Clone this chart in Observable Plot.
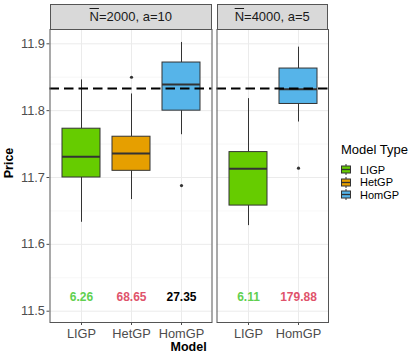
<!DOCTYPE html>
<html><head><meta charset="utf-8">
<script src="https://cdn.jsdelivr.net/npm/d3@7"></script>
<script src="https://cdn.jsdelivr.net/npm/@observablehq/plot@0.6"></script>
<style>
body{margin:0;background:#fff;font-family:"Liberation Sans",Arial,sans-serif;}
#root{position:relative;width:419px;height:359px;overflow:hidden;background:#fff;}
.abs{position:absolute;}
.strip{position:absolute;top:4px;height:25.5px;background:#D9D9D9;border:1px solid #555;box-sizing:border-box;font-size:13px;color:#1A1A1A;display:flex;align-items:center;justify-content:center;white-space:nowrap;}
.ol{text-decoration:overline;}
.title{font-weight:bold;font-size:12.5px;color:#000;white-space:nowrap;}
.leg{position:absolute;left:341px;font-size:11px;color:#000;white-space:nowrap;}
</style></head>
<body><div id="root"></div>
<script>
// ---- data ----
const models = ["LIGP", "HetGP", "HomGP"];
const modelColors = ["#66CC00", "#E69F00", "#56B4E9"];
const panelN = ["2000", "4000"];
const panelA = ["10", "5"];
const panelModels = [["LIGP", "HetGP", "HomGP"], ["LIGP", "HomGP"]];
const whiskerLow = [[11.633, 11.667, 11.764], [11.628, 11.783]];
const quart1 = [[11.700, 11.710, 11.800], [11.658, 11.810]];
const medians = [[11.731, 11.736, 11.839], [11.713, 11.832]];
const quart3 = [[11.773, 11.761, 11.872], [11.738, 11.863]];
const whiskerHigh = [[11.846, 11.825, 11.902], [11.818, 11.895]];
const outliers = [[[], [11.850], [11.688]], [[], [11.714]]];
const benchmark = 11.833;
const timeLabels = [["6.26", "68.65", "27.35"], ["6.11", "179.88"]];
const timeColors = [["#61D04F", "#DF536B", "#000000"], ["#61D04F", "#DF536B"]];
const labelLevel = 11.521;
const yTicks = [11.5, 11.6, 11.7, 11.8, 11.9];
const yMinor = [11.55, 11.65, 11.75, 11.85];
const yDomain = [11.4831, 11.9214];

const root = document.getElementById("root");
const colorOf = m => modelColors[models.indexOf(m)];

function makePanel(i, width, mLeft, mRight, showY) {
  const rows = panelModels[i].map((m, j) => ({
    model: m, lo: whiskerLow[i][j], q1: quart1[i][j], med: medians[i][j],
    q3: quart3[i][j], hi: whiskerHigh[i][j], label: timeLabels[i][j],
    lc: timeColors[i][j], col: colorOf(m), ly: labelLevel
  }));
  const outs = [];
  panelModels[i].forEach((m, j) => outliers[i][j].forEach(v => outs.push({model: m, v})));
  return Plot.plot({
    width, height: 343, marginTop: 29, marginBottom: 21, marginLeft: mLeft, marginRight: mRight,
    style: {fontSize: "12.8px", color: "#4D4D4D", fontFamily: "'Liberation Sans', Arial, sans-serif", background: "transparent"},
    x: {type: "band", domain: panelModels[i], paddingInner: 0.25, paddingOuter: 0.225, label: null, tickSize: 3, tickPadding: 3},
    y: {domain: yDomain, ticks: yTicks, tickFormat: ".1f", label: null, tickSize: 3, tickPadding: 2, axis: showY ? "left" : null},
    color: {type: "identity"},
    marks: [
      Plot.gridY(yMinor, {stroke: "#F3F3F3", strokeOpacity: 1, strokeWidth: 0.7}),
      Plot.gridY(yTicks, {stroke: "#EBEBEB", strokeOpacity: 1, strokeWidth: 1}),
      Plot.gridX(panelModels[i], {stroke: "#EBEBEB", strokeOpacity: 1, strokeWidth: 1}),
      Plot.ruleX(rows, {x: "model", y1: "lo", y2: "q1", stroke: "#333333", strokeWidth: 1}),
      Plot.ruleX(rows, {x: "model", y1: "q3", y2: "hi", stroke: "#333333", strokeWidth: 1}),
      Plot.barY(rows, {x: "model", y1: "q1", y2: "q3", fill: "col", stroke: "#333333", strokeWidth: 1}),
      Plot.tickY(rows, {x: "model", y: "med", stroke: "#333333", strokeWidth: 2}),
      Plot.dot(outs, {x: "model", y: "v", r: 1.6, fill: "#333333", stroke: null}),
      Plot.ruleY([benchmark], {stroke: "#000", strokeWidth: 2, strokeDasharray: "9.5,5"}),
      Plot.text(rows, {x: "model", y: "ly", text: "label", fill: "lc", fontWeight: "bold", fontSize: 12}),
      Plot.frame({stroke: "#555555", strokeWidth: 1})
    ]
  });
}

const p1 = makePanel(0, 213, 49.5, 1.5, true);
p1.style.position = "absolute"; p1.style.left = "0px"; p1.style.top = "0px";
root.appendChild(p1);
const p2 = makePanel(1, 115, 1.5, 2, false);
p2.style.position = "absolute"; p2.style.left = "215px"; p2.style.top = "0px";
root.appendChild(p2);

// strips
const stripPos = [[49.5, 162.5], [216.5, 111.5]];
stripPos.forEach(([l, w], i) => {
  const s = document.createElement("div");
  s.className = "strip";
  s.style.left = l + "px"; s.style.width = w + "px";
  s.innerHTML = `<span class="ol">N</span>=${panelN[i]}, a=${panelA[i]}`;
  root.appendChild(s);
});

// axis titles
const yt = document.createElement("div");
yt.className = "abs title";
yt.textContent = "Price";
yt.style.left = "8.5px"; yt.style.top = "163px";
yt.style.transform = "translate(-50%,-50%) rotate(-90deg)";
root.appendChild(yt);
const xt = document.createElement("div");
xt.className = "abs title";
xt.textContent = "Model";
xt.style.left = "188.6px"; xt.style.top = "347px";
xt.style.transform = "translate(-50%,-50%)";
root.appendChild(xt);

// legend
const lt = document.createElement("div");
lt.className = "leg";
lt.style.fontSize = "13px";
lt.style.top = "142px";
lt.textContent = "Model Type";
root.appendChild(lt);
models.forEach((m, k) => {
  const cy = [169.6, 182.1, 194.6][k];
  const d = document.createElement("div");
  d.className = "leg";
  d.style.top = (cy - 6) + "px";
  d.style.height = "12px";
  d.style.display = "flex"; d.style.alignItems = "center";
  d.innerHTML = `<svg width="11" height="11" style="display:block"><line x1="5" x2="5" y1="0" y2="11" stroke="#333" stroke-width="1"/><rect x="0.5" y="2" width="9" height="7" fill="${modelColors[k]}" stroke="#333" stroke-width="1"/><line x1="0.5" x2="9.5" y1="5.5" y2="5.5" stroke="#333" stroke-width="1.3"/></svg><span style="margin-left:8px;line-height:12px">${m}</span>`;
  root.appendChild(d);
});
</script>
</body></html>
